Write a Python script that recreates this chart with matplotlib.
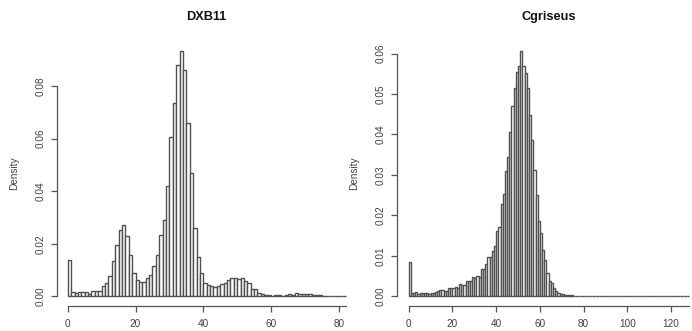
import numpy as np
import matplotlib
matplotlib.use("Agg")
import matplotlib.pyplot as plt

plt.rcParams["font.family"] = ["Liberation Sans", "DejaVu Sans"]

# DXB11: density per unit-width bin, bins 0..82
dxb11_density = [
    0.0138, 0.0016, 0.0013, 0.0015, 0.0018, 0.0015, 0.0010, 0.0019, 0.0019, 0.0019,
    0.0039, 0.0050, 0.0078, 0.0133, 0.0196, 0.0254, 0.0273, 0.0229, 0.0158, 0.0087,
    0.0062, 0.0053, 0.0054, 0.0070, 0.0082, 0.0114, 0.0158, 0.0232, 0.0291, 0.0420,
    0.0605, 0.0734, 0.0882, 0.0933, 0.0860, 0.0658, 0.0468, 0.0261, 0.0148, 0.0090,
    0.0052, 0.0043, 0.0039, 0.0034, 0.0039, 0.0047, 0.0052, 0.0062, 0.0068, 0.0068,
    0.0066, 0.0070, 0.0058, 0.0050, 0.0027, 0.0027, 0.0013, 0.0009, 0.0005, 0.0004,
    0.0001, 0.0004, 0.0004, 0.0003, 0.0006, 0.0009, 0.0006, 0.0011, 0.0008, 0.0009,
    0.0009, 0.0008, 0.0005, 0.0005, 0.0004, 0.0002, 0.0002, 0.0001, 0.0001, 0.0001,
    0.0001, 0.0001,
]

# Cgriseus: density per unit-width bin, bins 0..128
cgriseus_density = [
    0.0086, 0.0009, 0.0007, 0.0011, 0.0006, 0.0007, 0.0009, 0.0009, 0.0007, 0.0006,
    0.0009, 0.0007, 0.0010, 0.0012, 0.0016, 0.0015, 0.0013, 0.0013, 0.0020, 0.0020,
    0.0020, 0.0022, 0.0020, 0.0030, 0.0029, 0.0027, 0.0039, 0.0038, 0.0039, 0.0048,
    0.0046, 0.0049, 0.0048, 0.0068, 0.0068, 0.0081, 0.0098, 0.0098, 0.0111, 0.0125,
    0.0162, 0.0171, 0.0229, 0.0254, 0.0310, 0.0345, 0.0405, 0.0470, 0.0515, 0.0555,
    0.0568, 0.0606, 0.0568, 0.0551, 0.0514, 0.0448, 0.0386, 0.0311, 0.0250, 0.0185,
    0.0156, 0.0115, 0.0090, 0.0058, 0.0039, 0.0032, 0.0020, 0.0012, 0.0008, 0.0006,
    0.0005, 0.0004, 0.0003, 0.0002, 0.0002, 0.0001, 0.0001, 0.0001, 0.00005, 0.0,
    0.0, 0.0, 0.0, 0.0, 0.0, 0.0001, 0.0, 0.0, 0.0, 0.0,
    0.0001, 0.0, 0.0, 0.0, 0.0001, 0.0, 0.0, 0.0, 0.0, 0.0,
    0.0, 0.0, 0.0, 0.0, 0.0, 0.0, 0.0, 0.0, 0.0, 0.0,
    0.0, 0.0, 0.0, 0.0, 0.0, 0.0, 0.0, 0.0, 0.0, 0.0,
    0.0, 0.0, 0.0, 0.0, 0.0, 0.0, 0.0, 0.0,
]

dxb11_xticks = [0, 20, 40, 60, 80]
dxb11_yticks = [0.00, 0.02, 0.04, 0.06, 0.08]
cgriseus_xticks = [0, 20, 40, 60, 80, 100, 120]
cgriseus_yticks = [0.00, 0.01, 0.02, 0.03, 0.04, 0.05, 0.06]

TXT = "#404040"
EDGE = "#505050"
FS = 7.2


def r_hist(ax, density, title, xticks, yticks):
    dens = np.array(density)
    nbins = len(dens)
    left = np.arange(nbins)
    ax.bar(left, dens, width=1.0, align="edge", facecolor="white",
           edgecolor=EDGE, linewidth=1.0)

    # R style axis ranges: 4% padding around data range
    xpad = 0.04 * nbins
    ymax = dens.max()
    ax.set_xlim(-xpad, nbins + xpad)
    ax.set_ylim(-0.04 * ymax, ymax * 1.04)

    for s in ["top", "right"]:
        ax.spines[s].set_visible(False)
    ax.spines["left"].set_bounds(yticks[0], yticks[-1])
    ax.spines["bottom"].set_bounds(0, nbins)
    for s in ["left", "bottom"]:
        ax.spines[s].set_color("#555555")
        ax.spines[s].set_linewidth(0.9)

    ax.set_xticks(xticks)
    ax.set_yticks(yticks)
    ax.set_xticklabels([str(t) for t in xticks])
    ax.set_yticklabels(["%.2f" % t for t in yticks], rotation=90, va="center")
    ax.tick_params(axis="both", direction="out", length=4.3, width=0.9,
                   color="#555555", labelsize=FS, labelcolor=TXT)
    ax.tick_params(axis="x", pad=5.0)
    ax.tick_params(axis="y", pad=4.0)

    ax.set_ylabel("Density", fontsize=FS, color=TXT)
    ax.yaxis.set_label_coords(-0.126, 0.5)
    ax.text(0.5, 1.093, title, transform=ax.transAxes, ha="center",
            va="center", fontsize=9.2, fontweight="bold", color="#111111")


def main():
    fig = plt.figure(figsize=(6.92, 3.31), dpi=100)

    ax1 = fig.add_axes([0.0819, 0.0752, 0.4335, 0.80])
    r_hist(ax1, dxb11_density, "DXB11", dxb11_xticks, dxb11_yticks)

    ax2 = fig.add_axes([0.5744, 0.0752, 0.437, 0.80])
    r_hist(ax2, cgriseus_density, "Cgriseus", cgriseus_xticks, cgriseus_yticks)

    fig.savefig("out.png", dpi=100)
    plt.close(fig)


if __name__ == "__main__":
    main()
